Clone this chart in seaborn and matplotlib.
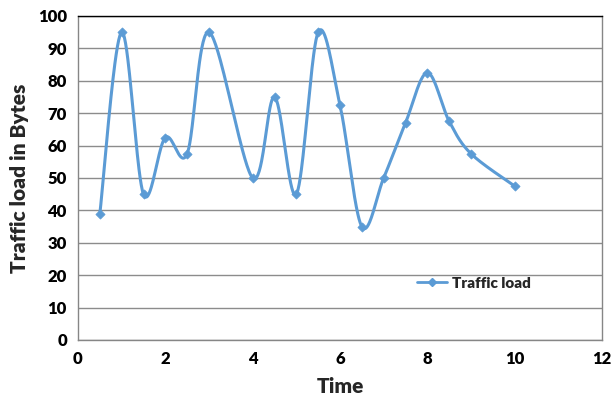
import numpy as np
import pandas as pd
import matplotlib
matplotlib.use("Agg")
import matplotlib.pyplot as plt
from matplotlib.lines import Line2D
import seaborn as sns

# Measured traffic load over time
time = [0.5, 1, 1.5, 2, 2.5, 3, 4, 4.5, 5, 5.5, 6, 6.5, 7, 7.5, 8, 8.5, 9, 10]
load = [39, 95, 45, 62.5, 57.5, 95, 50, 75, 45, 95, 72.5, 35, 50, 67, 82.5, 67.5, 57.5, 47.5]
x_ticks = [0, 2, 4, 6, 8, 10, 12]
y_ticks = [0, 10, 20, 30, 40, 50, 60, 70, 80, 90, 100]

LINE_COLOR = "#5B9BD5"
TEXT_WEIGHT = "heavy"


def smooth_curve(xs, ys, steps=40):
    """Cubic Bezier smoothing through every point (Catmull-Rom style control points)."""
    p = np.column_stack([xs, ys]).astype(float)
    n = len(p)
    out = []
    t = np.linspace(0, 1, steps)[:, None]
    for i in range(n - 1):
        p0 = p[max(i - 1, 0)]
        p1 = p[i]
        p2 = p[i + 1]
        p3 = p[min(i + 2, n - 1)]
        c1 = p1 + (p2 - p0) / 6.0
        c2 = p2 - (p3 - p1) / 6.0
        seg = ((1 - t) ** 3) * p1 + 3 * ((1 - t) ** 2) * t * c1 + 3 * (1 - t) * t ** 2 * c2 + t ** 3 * p2
        out.append(seg if i == 0 else seg[1:])
    seg = np.vstack(out)
    return seg[:, 0], seg[:, 1]


sns.set_style("white")
plt.rcParams["font.family"] = ["Lato", "DejaVu Sans"]

fig = plt.figure(figsize=(6.16, 4.01), dpi=100)
ax = fig.add_axes([78 / 616, 61 / 401, 524 / 616, 324 / 401])

sx, sy = smooth_curve(time, load)
curve = pd.DataFrame({"x": sx, "y": sy})
points = pd.DataFrame({"Time": time, "Load": load})

sns.lineplot(data=curve, x="x", y="y", sort=False, estimator=None, ax=ax,
             color=LINE_COLOR, linewidth=2.2, zorder=3)
sns.scatterplot(data=points, x="Time", y="Load", ax=ax, marker="D", s=22,
                color=LINE_COLOR, edgecolor=LINE_COLOR, linewidth=0.5, zorder=4)

ax.set_xlim(0, 12)
ax.set_ylim(0, 100)
ax.set_xticks(x_ticks)
ax.set_yticks(y_ticks)
ax.set_xticklabels([str(v) for v in x_ticks])
ax.set_yticklabels([str(v) for v in y_ticks])

ax.yaxis.grid(True, color="#8c8c8c", linewidth=1.0)
ax.xaxis.grid(False)
ax.set_axisbelow(True)

for side in ["left", "bottom", "right"]:
    ax.spines[side].set_color("#868686")
    ax.spines[side].set_linewidth(1.0)
ax.spines["top"].set_color("#000000")
ax.spines["top"].set_linewidth(1.0)

ax.tick_params(axis="both", which="major", length=4, width=1, color="#868686",
               labelsize=12, labelcolor="black", pad=4)
for lbl in ax.get_xticklabels() + ax.get_yticklabels():
    lbl.set_fontweight(TEXT_WEIGHT)

ax.set_xlabel("Time", fontsize=15, fontweight=TEXT_WEIGHT, labelpad=7)
ax.set_ylabel("Traffic load in Bytes", fontsize=15, fontweight=TEXT_WEIGHT, labelpad=6)

handle = Line2D([], [], color=LINE_COLOR, linewidth=2.0, marker="D", markersize=4.5)
ax.legend([handle], ["Traffic load"], loc="center left", bbox_to_anchor=(0.62, 0.175),
          frameon=False, prop={"weight": TEXT_WEIGHT, "size": 11}, handlelength=2.0,
          handletextpad=0.3)

fig.savefig("out.png", dpi=100)
